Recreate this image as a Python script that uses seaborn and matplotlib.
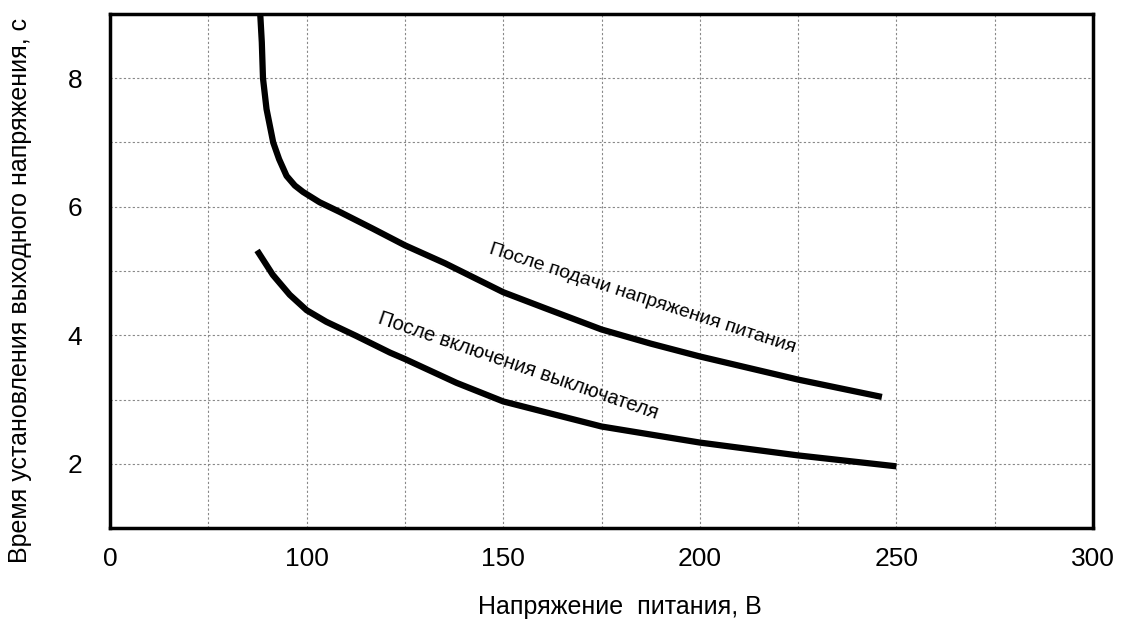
import pandas as pd
import seaborn as sns
import matplotlib.pyplot as plt

# data
x_supply = [88.2, 88.6, 88.9, 89.8, 91.5, 93.0, 94.9, 97.0, 99.1, 103.3, 108.4,
            116.8, 125, 135.2, 150, 160.7, 175, 187.5, 200, 225, 246.3]
y_supply = [9.0, 8.56, 8.0, 7.52, 7.0, 6.74, 6.48, 6.33, 6.23, 6.07, 5.92,
            5.66, 5.40, 5.12, 4.67, 4.42, 4.09, 3.87, 3.67, 3.31, 3.04]

x_switch = [87.4, 91.4, 95.7, 100, 105, 112.6, 121.2, 125, 138.1, 150, 175, 200, 225, 250]
y_switch = [5.32, 4.94, 4.63, 4.39, 4.21, 3.99, 3.73, 3.63, 3.26, 2.97, 2.58, 2.33, 2.13, 1.96]

x_ticks = [50, 100, 150, 200, 250, 300]
x_ticklabels = ["0", "100", "150", "200", "250", "300"]
y_ticks = [2, 4, 6, 8]

label_supply = "После подачи напряжения питания"
label_switch = "После включения выключателя"

df = pd.concat([
    pd.DataFrame({"U": x_supply, "t": y_supply, "curve": label_supply}),
    pd.DataFrame({"U": x_switch, "t": y_switch, "curve": label_switch}),
])

sns.set_style("white")
plt.rcParams["font.family"] = ["Liberation Sans", "DejaVu Sans"]
plt.rcParams["text.color"] = "black"
plt.rcParams["axes.labelcolor"] = "black"
plt.rcParams["xtick.color"] = "black"
plt.rcParams["ytick.color"] = "black"

fig = plt.figure(figsize=(11.25, 6.24), dpi=100)
ax = fig.add_axes([0.0978, 0.1538, 0.8738, 0.8238])

sns.lineplot(data=df, x="U", y="t", hue="curve", units="curve", estimator=None,
             sort=False, palette=["black", "black"], linewidth=4.5,
             legend=False, ax=ax, solid_capstyle="butt", solid_joinstyle="round")

ax.set_xlim(50, 300)
ax.set_ylim(1, 9)
ax.set_xticks(x_ticks)
ax.set_xticklabels(x_ticklabels)
ax.set_yticks(y_ticks)
ax.set_xticks(range(75, 300, 25), minor=True)
ax.set_yticks(range(3, 9, 2), minor=True)
ax.grid(True, which="both", color="#888888", linestyle=(0, (2, 2)), linewidth=0.8)
ax.tick_params(axis="both", which="both", length=0)
ax.tick_params(axis="x", labelsize=19, pad=14)
ax.tick_params(axis="y", labelsize=19, pad=20)

for s in ax.spines.values():
    s.set_visible(True)
    s.set_color("black")
    s.set_linewidth(2.5)

ax.set_xlabel("Напряжение  питания, В", fontsize=18)
ax.set_ylabel("Время установления выходного напряжения, с", fontsize=18)
ax.xaxis.set_label_coords(0.519, -0.13)
ax.yaxis.set_label_coords(-0.079, 0.463)

ax.text(185.3, 4.57, label_supply, fontsize=14, rotation=-18,
        rotation_mode="anchor", ha="center", va="center")
ax.text(153.8, 3.52, label_switch, fontsize=14.5, rotation=-19,
        rotation_mode="anchor", ha="center", va="center")

fig.savefig("out.png", dpi=100)
